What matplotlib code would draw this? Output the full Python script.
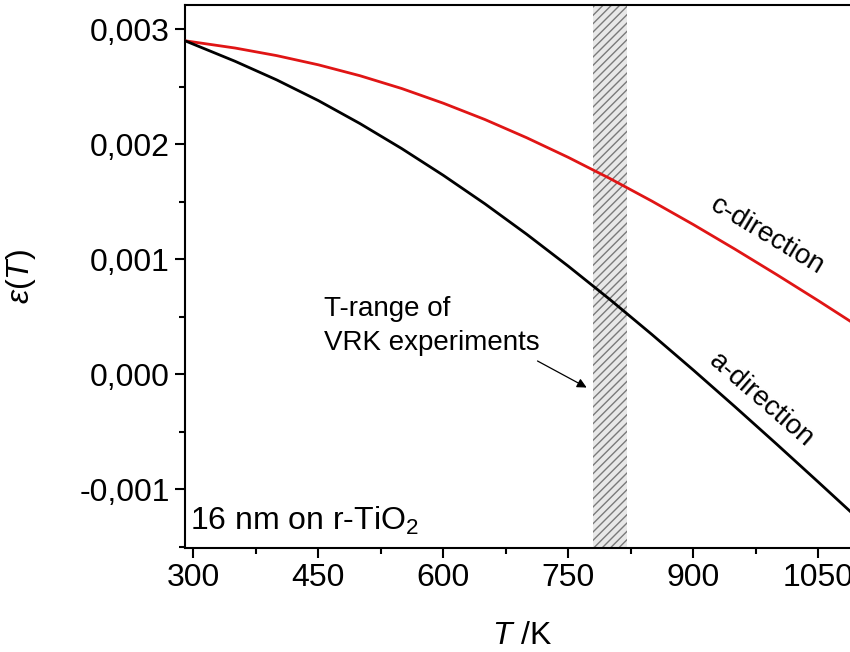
import matplotlib
matplotlib.use("Agg")
import matplotlib.pyplot as plt
from matplotlib.ticker import MultipleLocator, FuncFormatter

plt.rcParams['font.family'] = ['Liberation Sans', 'DejaVu Sans']
plt.rcParams['mathtext.fontset'] = 'custom'
plt.rcParams['mathtext.rm'] = 'Liberation Sans'
plt.rcParams['mathtext.it'] = 'Liberation Sans:italic'
plt.rcParams['hatch.linewidth'] = 1.0

# Data
T = [290, 350, 400, 450, 500, 550, 600, 650, 700, 750, 800, 850, 900, 950, 1000, 1050, 1100]
eps_a = [0.002900, 0.002722, 0.002560, 0.002380, 0.002180, 0.001963, 0.001730, 0.001482,
         0.001218, 0.000940, 0.000650, 0.000348, 0.000037, -0.000282, -0.000607, -0.000937, -0.001270]
eps_c = [0.002900, 0.002837, 0.002771, 0.002691, 0.002596, 0.002485, 0.002357, 0.002215,
         0.002057, 0.001886, 0.001702, 0.001507, 0.001302, 0.001088, 0.000867, 0.000640, 0.000407]
vrk_range = (780, 820)
x_ticks = [300, 450, 600, 750, 900, 1050]
y_ticks = [-0.001, 0.000, 0.001, 0.002, 0.003]

fig = plt.figure(figsize=(8.5, 6.52), dpi=100)
ax = fig.add_axes([185/850, 104/652, 675/850, 543/652])

ax.axvspan(vrk_range[0], vrk_range[1], facecolor='#e8e8e8', edgecolor='#7a7a7a',
           hatch='////', linewidth=0, zorder=1)
ax.plot(T, eps_c, color='#e01515', lw=2.0, zorder=3)
ax.plot(T, eps_a, color='black', lw=2.0, zorder=3)

ax.set_xlim(290, 1100)
ax.set_ylim(-0.00151, 0.003211)
ax.set_xticks(x_ticks)
ax.set_yticks(y_ticks)
ax.xaxis.set_minor_locator(MultipleLocator(75))
ax.yaxis.set_minor_locator(MultipleLocator(0.0005))
ax.yaxis.set_major_formatter(FuncFormatter(lambda v, p: f"{v:.3f}".replace('.', ',').replace('-0,000', '0,000')))

for s in ax.spines.values():
    s.set_linewidth(1.5)
ax.tick_params(which='major', direction='out', length=7, width=1.5, labelsize=23, pad=4)
ax.tick_params(which='minor', direction='out', length=4, width=1.5)
ax.tick_params(top=False, right=False, which='both')

ax.set_xlabel(r'$T$ /K', fontsize=23, labelpad=20)
ax.set_ylabel(r'$\varepsilon(T)$', fontsize=23)
ax.yaxis.set_label_coords(-0.218, 0.5)

ax.text(295.6, -0.001354, r'16 nm on r-TiO$_2$', fontsize=23, ha='left', va='baseline', zorder=4)
ax.text(457, 0.000507, 'T-range of', fontsize=20, ha='left', va='baseline')
ax.text(457, 0.000211, 'VRK experiments', fontsize=20, ha='left', va='baseline')
ax.annotate('', xy=(772, -0.000115), xytext=(713, 0.000116),
            arrowprops=dict(arrowstyle='-|>', color='black', lw=0.9, mutation_scale=14,
                            shrinkA=0, shrinkB=0))
ax.text(989, 0.00120, 'c-direction', fontsize=20, rotation=-31, ha='center', va='center',
        rotation_mode='anchor')
ax.text(982, -0.000223, 'a-direction', fontsize=20, rotation=-41, ha='center', va='center',
        rotation_mode='anchor')

fig.savefig('out.png', dpi=100)
